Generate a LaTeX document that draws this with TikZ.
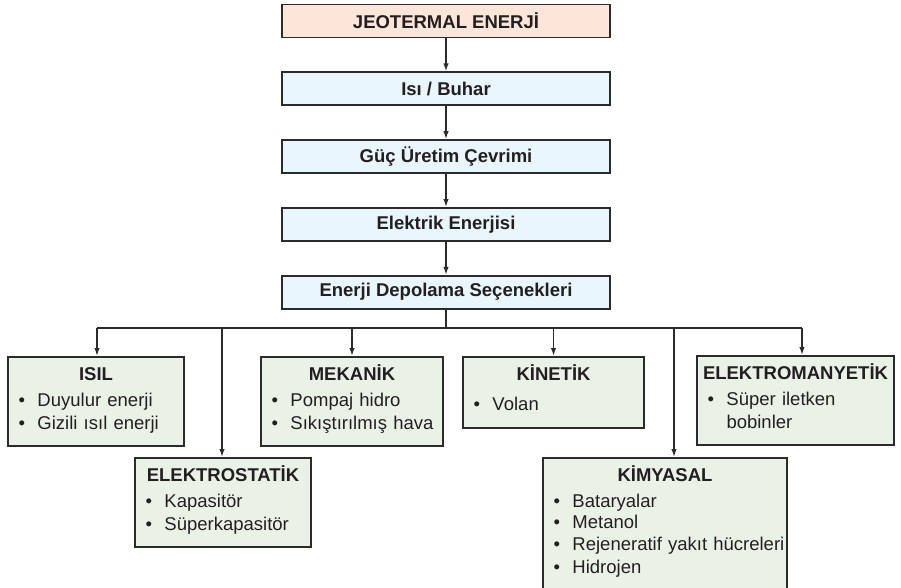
\documentclass[tikz,border=0pt]{standalone}
\usepackage{fontspec}
\setmainfont{Liberation Sans}
\usepackage{xcolor}
\usepackage{tikz}
\usetikzlibrary{arrows.meta,positioning}

\definecolor{jeofill}{HTML}{FCE6DA}
\definecolor{stepfill}{HTML}{EAF6FD}
\definecolor{catfill}{HTML}{EAF2E8}
\definecolor{edgegray}{HTML}{2B2B2B}
\definecolor{inkgray}{HTML}{231F20}

% strut for first and last lines of the category boxes
\newcommand{\bstrut}{\rule[-11pt]{0pt}{29pt}}
% centred heading line of a category box
\newcommand{\cathead}[1]{\makebox[\hsize]{\bfseries #1\bstrut}}
% one bullet item
\newcommand{\itm}[1]{\makebox[26.5pt][l]{\hspace{7.5pt}\textbullet}\mbox{#1}}

\begin{document}
\begin{tikzpicture}[x=1pt, y=-1pt,
  font=\fontsize{18.5}{21.5}\selectfont, text=inkgray,
  node distance=33pt,
  flowbox/.style={rectangle, draw=edgegray, line width=1.8pt,
                  minimum width=328pt, minimum height=33pt,
                  inner sep=0pt, font=\fontsize{18.5}{21.5}\selectfont\bfseries},
  jeo/.style     ={flowbox, fill=jeofill},
  stepbox/.style ={flowbox, fill=stepfill},
  cat/.style     ={rectangle, draw=edgegray, line width=1.8pt, fill=catfill,
                   anchor=north, align=left, inner xsep=3pt, inner ysep=6pt},
  link/.style    ={line width=1.5pt, draw=edgegray},
  arr/.style     ={link, -{Latex[length=8pt,width=5.5pt]}},
]
\useasboundingbox (0,0) rectangle (901,587);

% === Main chain ===
\node[jeo] (jeo) at (446,21) {JEOTERMAL ENERJİ};
\node[stepbox, below=of jeo] (isi) {Isı / Buhar};
\node[stepbox, below=of isi] (guc) {Güç Üretim Çevrimi};
\node[stepbox, below=of guc] (elek) {Elektrik Enerjisi};
\node[stepbox, below=of elek] (depo) {Enerji Depolama Seçenekleri};

% === Storage types, upper row ===
\node[cat, text width=170pt] (isil) at (96,356)
  {\cathead{ISIL}\\\itm{Duyulur enerji}\\\itm{Gizili ısıl enerji\bstrut}};
\node[cat, text width=176pt] (mek) at (352,356)
  {\cathead{MEKANİK}\\\itm{Pompaj hidro}\\\itm{Sıkıştırılmış hava\bstrut}};
\node[cat, text width=175pt, minimum height=66pt] (kin) at (553.5,356)
  {\cathead{KİNETİK}\\\itm{Volan\bstrut}};
\node[cat, text width=191pt] (emag) at (795.5,355)
  {\cathead{ELEKTROMANYETİK}\\\itm{Süper iletken}\\\hspace*{26.5pt}bobinler\bstrut};

% === Storage types, lower row ===
\node[cat, text width=170pt] (estat) at (223,457)
  {\cathead{ELEKTROSTATİK}\\\itm{Kapasitör}\\\itm{Süperkapasitör\bstrut}};
\node[cat, text width=238pt] (kimya) at (665,457)
  {\cathead{KİMYASAL}\\\itm{Bataryalar}\\\itm{Metanol}\\
   \itm{Rejeneratif yakıt hücreleri}\\\itm{Hidrojen\bstrut}};

% === Chain arrows ===
\draw[arr] (jeo) -- (isi);
\draw[arr] (isi) -- (guc);
\draw[arr] (guc) -- (elek);
\draw[arr] (elek) -- (depo);

% === Distribution bus ===
\coordinate (bus) at (446,328);
\draw[link] (depo.south) -- (bus);
\draw[link] ([xshift=1pt]isil.north |- bus) -- ([xshift=6.5pt]emag.north |- bus);

\draw[arr] ([xshift=1pt]isil.north |- bus) -- ([xshift=1pt]isil.north);
\draw[arr] ([xshift=-1pt]estat.north |- bus) -- ([xshift=-1pt]estat.north);
\draw[arr] (mek.north |- bus) -- (mek.north);
\draw[arr] (kin.north |- bus) -- (kin.north);
\draw[arr] ([xshift=9pt]kimya.north |- bus) -- ([xshift=9pt]kimya.north);
\draw[arr] ([xshift=6.5pt]emag.north |- bus) -- ([xshift=6.5pt]emag.north);

\end{tikzpicture}
\end{document}
